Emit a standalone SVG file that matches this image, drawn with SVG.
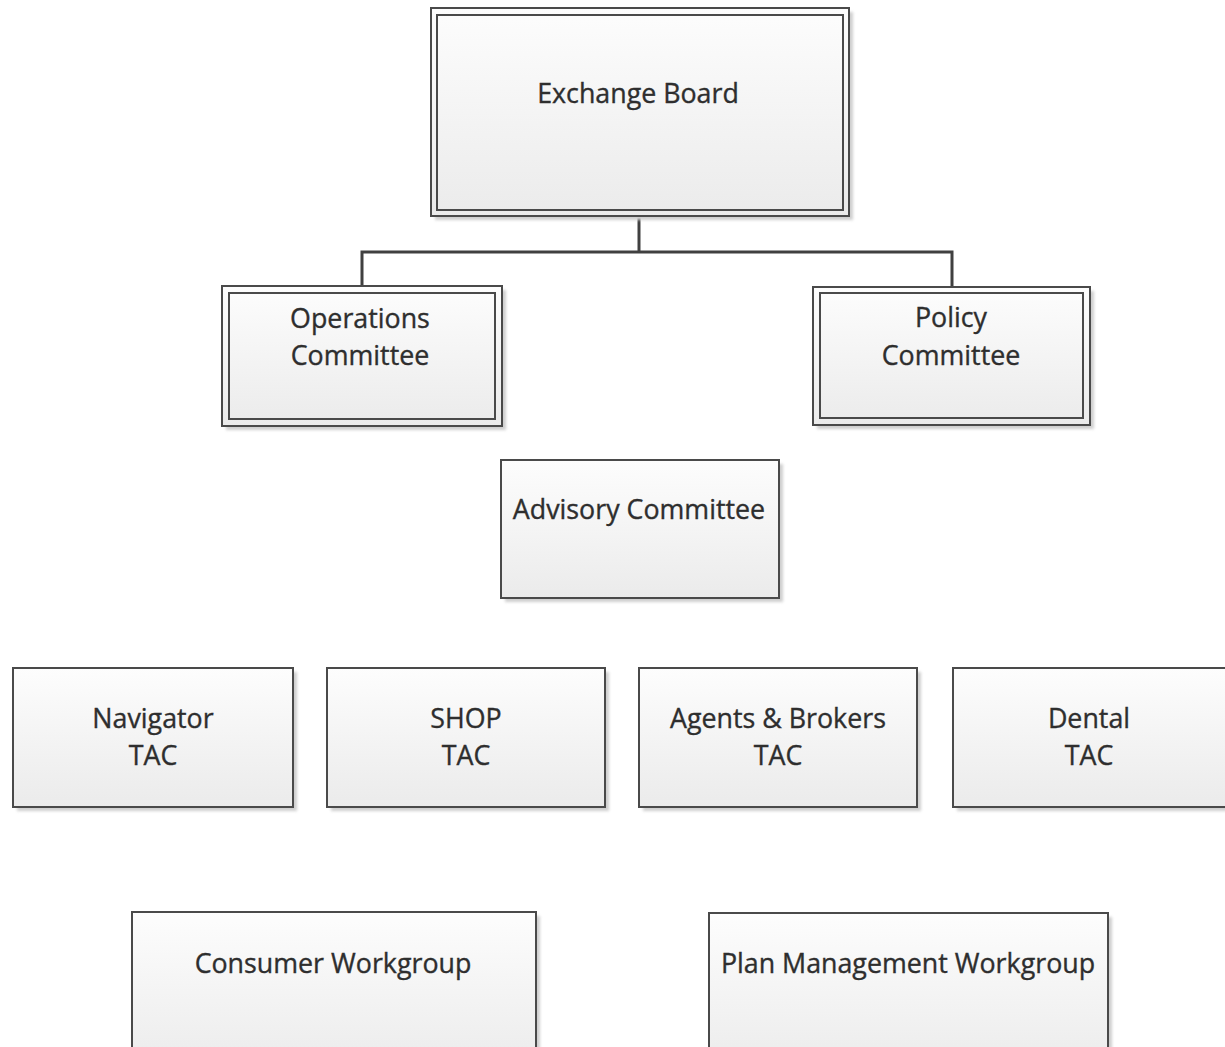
<svg xmlns="http://www.w3.org/2000/svg" width="1225" height="1047" viewBox="0 0 1225 1047">
<defs>
<linearGradient id="fillg" x1="0" y1="0" x2="0" y2="1">
<stop offset="0" stop-color="#fdfdfd"/>
<stop offset="1" stop-color="#ebebeb"/>
</linearGradient>
<filter id="sh" x="-10%" y="-10%" width="120%" height="120%">
<feGaussianBlur stdDeviation="1.5"/>
</filter>
</defs>
<style>
.box{fill:url(#fillg);stroke:#4a4a4a;stroke-width:2}
.inner{fill:none;stroke:#4a4a4a;stroke-width:2}
.shadow{fill:#cfcfcf;filter:url(#sh)}
.lbl{font-family:"Open Sans","Noto Sans",sans-serif;font-size:26.8px;fill:#2e2e2e;stroke:#2e2e2e;stroke-width:0.35;text-anchor:middle}
.conn{fill:none;stroke:#404040;stroke-width:3}
</style>
<rect width="1225" height="1047" fill="#ffffff"/>
<g id="connectors">
<path class="conn" d="M639,216 V252"/>
<path class="conn" d="M362,287 V252 H952 V287"/>
</g>
<g id="exchange-board">
<rect class="shadow" x="435" y="12" width="418" height="208"/>
<rect class="box" x="431" y="8" width="418" height="208"/>
<rect class="inner" x="437" y="15" width="406" height="195"/>
<text class="lbl" x="638" y="103">Exchange Board</text>
</g>
<g id="operations-committee">
<rect class="shadow" x="226" y="290" width="280" height="140"/>
<rect class="box" x="222" y="286" width="280" height="140"/>
<rect class="inner" x="229" y="293" width="266" height="126"/>
<text class="lbl" x="360" y="328">Operations</text>
<text class="lbl" x="360" y="365">Committee</text>
</g>
<g id="policy-committee">
<rect class="shadow" x="817" y="291" width="277" height="138"/>
<rect class="box" x="813" y="287" width="277" height="138"/>
<rect class="inner" x="820" y="293" width="263" height="125"/>
<text class="lbl" x="951" y="327">Policy</text>
<text class="lbl" x="951" y="365">Committee</text>
</g>
<g id="advisory-committee">
<rect class="shadow" x="505" y="464" width="278" height="138"/>
<rect class="box" x="501" y="460" width="278" height="138"/>
<text class="lbl" x="639" y="519">Advisory Committee</text>
</g>
<g id="navigator-tac">
<rect class="shadow" x="17" y="672" width="280" height="139"/>
<rect class="box" x="13" y="668" width="280" height="139"/>
<text class="lbl" x="153" y="728">Navigator</text>
<text class="lbl" x="153" y="765">TAC</text>
</g>
<g id="shop-tac">
<rect class="shadow" x="331" y="672" width="278" height="139"/>
<rect class="box" x="327" y="668" width="278" height="139"/>
<text class="lbl" x="466" y="728">SHOP</text>
<text class="lbl" x="466" y="765">TAC</text>
</g>
<g id="agents-brokers-tac">
<rect class="shadow" x="643" y="672" width="278" height="139"/>
<rect class="box" x="639" y="668" width="278" height="139"/>
<text class="lbl" x="778" y="728">Agents &amp; Brokers</text>
<text class="lbl" x="778" y="765">TAC</text>
</g>
<g id="dental-tac">
<rect class="shadow" x="957" y="672" width="276" height="139"/>
<rect class="box" x="953" y="668" width="276" height="139"/>
<text class="lbl" x="1089" y="728">Dental</text>
<text class="lbl" x="1089" y="765">TAC</text>
</g>
<g id="consumer-workgroup">
<rect class="shadow" x="136" y="916" width="404" height="160"/>
<rect class="box" x="132" y="912" width="404" height="160"/>
<text class="lbl" x="333" y="973">Consumer Workgroup</text>
</g>
<g id="plan-management-workgroup">
<rect class="shadow" x="713" y="917" width="399" height="160"/>
<rect class="box" x="709" y="913" width="399" height="160"/>
<text class="lbl" x="908" y="973">Plan Management Workgroup</text>
</g>
</svg>
